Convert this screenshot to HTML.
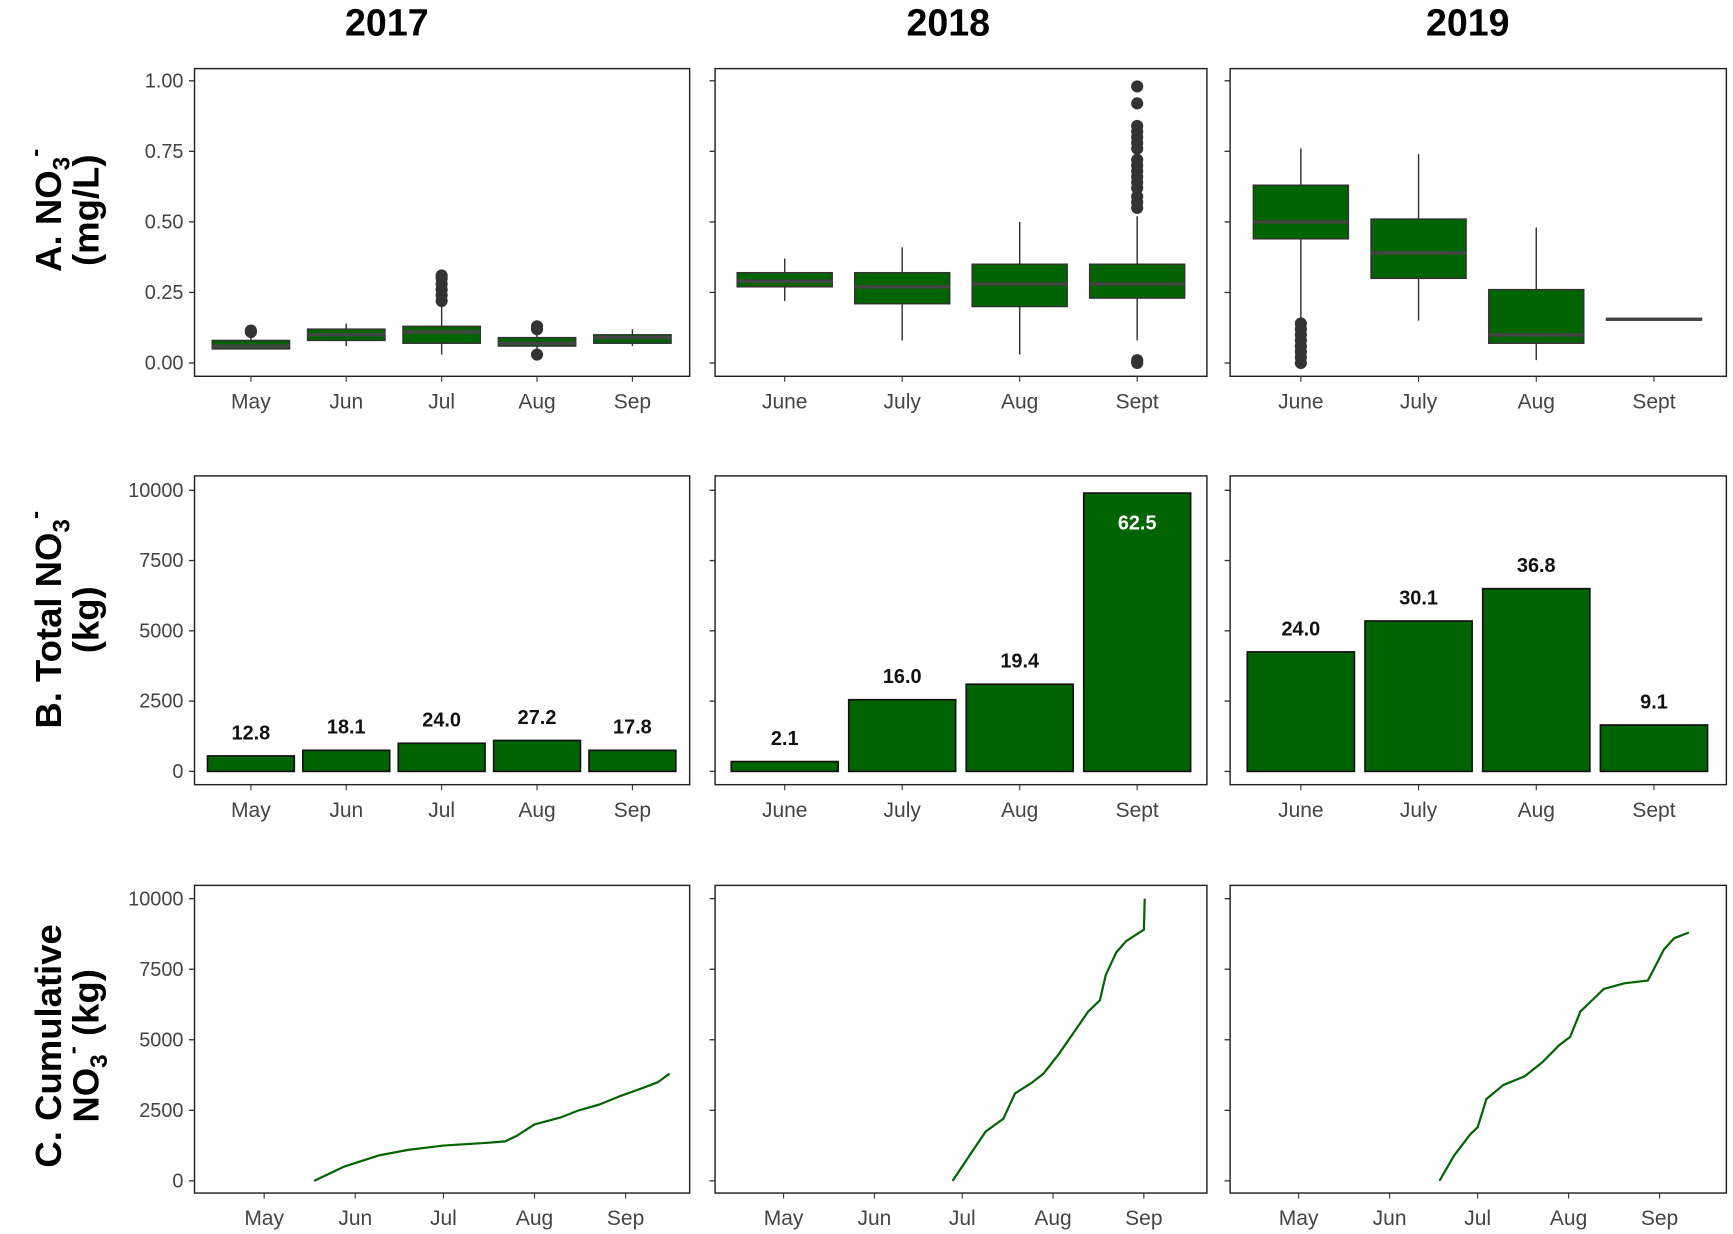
<!DOCTYPE html>
<html><head><meta charset="utf-8"><style>
html,body{margin:0;padding:0;background:#fff}
svg{display:block}
text{font-family:"Liberation Sans",sans-serif}
</style></head><body>
<svg id="chart" width="1733" height="1234" viewBox="0 0 1568 1115" preserveAspectRatio="none" xmlns="http://www.w3.org/2000/svg"></svg>
<script>
// ---- data ----
const years = ["2017","2018","2019"];
const boxCats2017 = ["May","Jun","Jul","Aug","Sep"];
const boxCats2018 = ["June","July","Aug","Sept"];
const boxCats2019 = ["June","July","Aug","Sept"];
// [low, q1, median, q3, high]
const box2017 = [[0.05,0.05,0.06,0.08,0.09],[0.06,0.08,0.10,0.12,0.14],[0.03,0.07,0.11,0.13,0.20],[0.05,0.06,0.07,0.09,0.11],[0.06,0.07,0.09,0.10,0.12]];
const box2018 = [[0.22,0.27,0.29,0.32,0.37],[0.08,0.21,0.27,0.32,0.41],[0.03,0.20,0.28,0.35,0.50],[0.08,0.23,0.28,0.35,0.52]];
const box2019 = [[0.15,0.44,0.50,0.63,0.76],[0.15,0.30,0.39,0.51,0.74],[0.01,0.07,0.10,0.26,0.48],[0.155,0.152,0.155,0.158,0.155]];
const out2017 = [[0.11,0.115],[],[0.22,0.24,0.26,0.28,0.30,0.31],[0.03,0.12,0.13],[]];
const out2018 = [[],[],[],[0.0,0.01,0.55,0.57,0.59,0.62,0.64,0.66,0.68,0.70,0.72,0.76,0.78,0.80,0.82,0.84,0.92,0.98]];
const out2019 = [[0.0,0.02,0.04,0.06,0.08,0.10,0.12,0.14],[],[],[]];
const bar2017 = [550,750,1000,1100,750];
const bar2018 = [350,2550,3100,9900];
const bar2019 = [4250,5350,6500,1650];
const barLab2017 = ["12.8","18.1","24.0","27.2","17.8"];
const barLab2018 = ["2.1","16.0","19.4","62.5"];
const barLab2019 = ["24.0","30.1","36.8","9.1"];
const lineMonths = ["May","Jun","Jul","Aug","Sep"];
const lineMonthDays = [121,152,182,213,244];
const cumDays2017 = [138,148,160,170,182,197,203,207,213,222,228,235,242,250,255,259];
const cumVals2017 = [0,500,900,1100,1250,1350,1400,1600,2000,2250,2500,2700,3000,3300,3500,3800];
const cumDays2018 = [178.7,185.5,190,196,200,206,209.7,215,221,225,229,231,234.6,238,244,244.3];
const cumVals2018 = [0,1060,1750,2200,3100,3500,3800,4500,5400,6000,6400,7300,8100,8500,8900,10000];
const cumDays2019 = [169,174,179.5,182,185,190.8,198,204,209.7,213.5,217,221,225,232,240,242,245.5,249,254];
const cumVals2019 = [0,900,1650,1900,2900,3400,3700,4200,4800,5100,6000,6400,6800,7000,7100,7500,8200,8600,8800];
const boxTicks = ["0.00","0.25","0.50","0.75","1.00"];
const boxTickVals = [0,0.25,0.5,0.75,1];
const kgTicks = ["0","2500","5000","7500","10000"];
const kgTickVals = [0,2500,5000,7500,10000];

// ---- layout ----
const NS="http://www.w3.org/2000/svg";
const svg=document.getElementById('chart');
function el(tag,attrs,parent){const e=document.createElementNS(NS,tag);for(const k in attrs)e.setAttribute(k,attrs[k]);(parent||svg).appendChild(e);return e;}
const cols=[{x0:176,x1:624},{x0:647,x1:1092},{x0:1113,x1:1562}];
const rows=[{y0:62,y1:340,v0:328,v1:73},{y0:430,y1:709,v0:697,v1:443},{y0:800,y1:1078,v0:1067,v1:812}];
const titleX=[350,858,1328];
const colCenters=[227,710,1177];
const colStep=[86.3,106.3,106.5];
const lineX0=[239,709,1175];
const lineScale=[2.659,2.65,2.655];
const GREEN="#006400";

years.forEach((yv,i)=>{
  const t=el('text',{x:titleX[i],y:32,'text-anchor':'middle','font-size':34,'font-weight':'bold'});
  t.textContent=yv;
  
  
});

// row titles
function rowTitle(lines,cy,name){
  const g=el('g',{transform:`translate(0,${cy}) rotate(-90)`});
  
  
  lines.forEach((ln,k)=>{
    const t=el('text',{x:0,y:ln.y,'text-anchor':'middle','font-size':33,'font-weight':'bold'},g);
    t.innerHTML=ln.h;
  });
}
rowTitle([{y:55,h:'A. NO<tspan font-size="22" dy="8">3</tspan><tspan font-size="22" dy="-24">-</tspan>'},{y:89,h:'(mg/L)'}],190,'y-axis-title-a');
rowTitle([{y:55,h:'B. Total NO<tspan font-size="22" dy="8">3</tspan><tspan font-size="22" dy="-24">-</tspan>'},{y:89,h:'(kg)'}],560,'y-axis-title-b');
rowTitle([{y:55,h:'C. Cumulative'},{y:89,h:'NO<tspan font-size="22" dy="8">3</tspan><tspan font-size="22" dy="-24">-</tspan><tspan dy="16"> (kg)</tspan>'}],945,'y-axis-title-c');

function ys(r,v,max){return rows[r].v0-(rows[r].v0-rows[r].v1)*v/max;}

for(let r=0;r<3;r++)for(let c=0;c<3;c++){
  const p=el('rect',{x:cols[c].x0,y:rows[r].y0,width:cols[c].x1-cols[c].x0,height:rows[r].y1-rows[r].y0,fill:'none',stroke:'#222','stroke-width':1.3});
  
  
  const max=r===0?1:10000;
  const tv=r===0?boxTickVals:kgTickVals, tl=r===0?boxTicks:kgTicks;
  tv.forEach((v,k)=>{
    const y=ys(r,v,max);
    el('line',{x1:cols[c].x0-5,x2:cols[c].x0,y1:y,y2:y,stroke:'#333','stroke-width':1.2});
    if(c===0){const t=el('text',{x:cols[c].x0-10,y:y+6,'text-anchor':'end','font-size':18,fill:'#444'});t.textContent=tl[k];
      
      }
  });
}

// boxplots
const boxCats=[boxCats2017,boxCats2018,boxCats2019], boxes=[box2017,box2018,box2019], outs=[out2017,out2018,out2019];
const boxW=[70,86,86];
boxes.forEach((bs,c)=>{
  bs.forEach((b,k)=>{
    const x=colCenters[c]+k*colStep[c], w=boxW[c];
    const g=el('g',{});
    
    
    el('line',{x1:x,x2:x,y1:ys(0,b[0],1),y2:ys(0,b[4],1),stroke:'#333','stroke-width':1.3},g);
    el('rect',{x:x-w/2,y:ys(0,b[3],1),width:w,height:Math.max(ys(0,b[1],1)-ys(0,b[3],1),1),fill:GREEN,stroke:'#333','stroke-width':1.3},g);
    el('line',{x1:x-w/2,x2:x+w/2,y1:ys(0,b[2],1),y2:ys(0,b[2],1),stroke:'#444','stroke-width':3},g);
    outs[c][k].forEach(o=>el('circle',{cx:x,cy:ys(0,o,1),r:5.5,fill:'#333'},g));
  });
  boxCats[c].forEach((lab,k)=>{
    const x=colCenters[c]+k*colStep[c];
    el('line',{x1:x,x2:x,y1:340,y2:345,stroke:'#333'});
    const t=el('text',{x:x,y:369,'text-anchor':'middle','font-size':19,fill:'#444'});t.textContent=lab;
    
    
  });
});

// bars
const bars=[bar2017,bar2018,bar2019], barLabs=[barLab2017,barLab2018,barLab2019];
bars.forEach((bs,c)=>{
  const w=colStep[c]*0.91;
  bs.forEach((v,k)=>{
    const x=colCenters[c]+k*colStep[c], y=ys(1,v,10000);
    const b=el('rect',{x:x-w/2,y:y,width:w,height:rows[1].v0-y,fill:GREEN,stroke:'#111','stroke-width':1.5});
    
    
    const inside=v>9000;
    const t=el('text',{x:x,y:inside?y+33:y-15,'text-anchor':'middle','font-size':18,'font-weight':'bold',fill:inside?'#fff':'#111'});
    t.textContent=barLabs[c][k];
    
    
  });
  boxCats[c].forEach((lab,k)=>{
    const x=colCenters[c]+k*colStep[c];
    el('line',{x1:x,x2:x,y1:709,y2:714,stroke:'#333'});
    const t=el('text',{x:x,y:738,'text-anchor':'middle','font-size':19,fill:'#444'});t.textContent=lab;
    
    
  });
});

// cumulative lines
const cumD=[cumDays2017,cumDays2018,cumDays2019], cumV=[cumVals2017,cumVals2018,cumVals2019];
cumD.forEach((ds,c)=>{
  const xs=d=>lineX0[c]+(d-121)*lineScale[c];
  const pts=ds.map((d,k)=>xs(d).toFixed(1)+','+ys(2,cumV[c][k],10000).toFixed(1)).join(' ');
  const pl=el('polyline',{points:pts,fill:'none',stroke:GREEN,'stroke-width':2,'stroke-linejoin':'round'});
  
  
  lineMonths.forEach((m,k)=>{
    const x=xs(lineMonthDays[k]);
    el('line',{x1:x,x2:x,y1:1078,y2:1083,stroke:'#333'});
    const t=el('text',{x:x,y:1107,'text-anchor':'middle','font-size':19,fill:'#444'});t.textContent=m;
    
    
  });
});
</script>
</body></html>
